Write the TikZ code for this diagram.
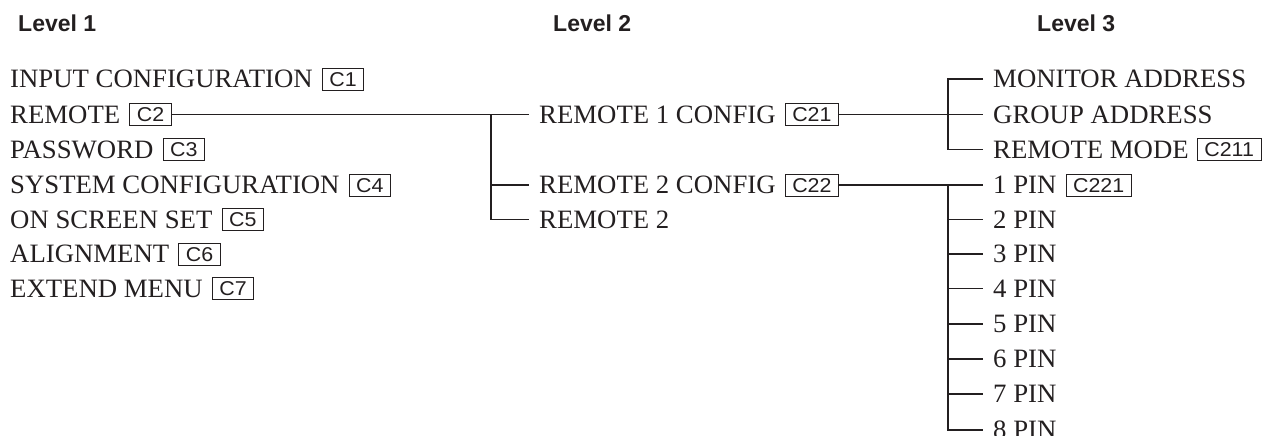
\documentclass[tikz,border=0pt]{standalone}
\usepackage{fontspec}
\setmainfont[FakeStretch=1.01]{Liberation Serif}
\setsansfont{Liberation Sans}
\newfontfamily\boxfont[FakeStretch=1.07]{Liberation Sans}
\usetikzlibrary{positioning}
\definecolor{ink}{HTML}{231F20}
\tikzset{
  item/.style={font=\fontsize{26.5}{30}\selectfont, text=ink, inner sep=0pt, anchor=west, text height=17.5pt, text depth=0pt},
  cbox/.style={draw=ink, line width=0.9pt, font=\boxfont\fontsize{20}{22}\selectfont, text=ink, inner xsep=7pt, inner ysep=0pt, minimum height=22pt, text height=14pt, text depth=0pt, anchor=west},
  head/.style={font=\sffamily\bfseries\fontsize{23}{26}\selectfont, text=ink, inner sep=0pt, anchor=base west},
  conn/.style={draw=ink, line width=1.1pt}
}
\begin{document}
\begin{tikzpicture}[x=1pt,y=-1pt]
\useasboundingbox (0,0) rectangle (1264,436);
% headers
\node[head] (h1) at (18,32) {Level 1};
\node[head] (h2) at (553,32) {Level 2};
\node[head] (h3) at (1037,32) {Level 3};
% level 1
\node[item] (l1) at (10,79) {INPUT CONFIGURATION};
\node[cbox, right=9pt of l1] (c1) {C1};
\node[item] (l2) at (10,114.5) {REMOTE};
\node[cbox, right=9pt of l2] (c2) {C2};
\node[item] (l3) at (10,149.5) {PASSWORD};
\node[cbox, right=9pt of l3] (c3) {C3};
\node[item] (l4) at (10,185) {SYSTEM CONFIGURATION};
\node[cbox, right=9pt of l4] (c4) {C4};
\node[item] (l5) at (10,219.5) {ON SCREEN SET};
\node[cbox, right=9pt of l5] (c5) {C5};
\node[item] (l6) at (10,254) {ALIGNMENT};
\node[cbox, right=9pt of l6] (c6) {C6};
\node[item] (l7) at (10,288.5) {EXTEND MENU};
\node[cbox, right=9pt of l7] (c7) {C7};
% level 2
\node[item] (r1) at (539,114.5) {REMOTE 1 CONFIG};
\node[cbox, right=9pt of r1] (c21) {C21};
\node[item] (r2) at (539,185) {REMOTE 2 CONFIG};
\node[cbox, right=9pt of r2] (c22) {C22};
\node[item] (r3) at (539,219.5) {REMOTE 2};
% level 3
\node[item] (m1) at (993,79) {MONITOR ADDRESS};
\node[item] (m2) at (993,114.5) {GROUP ADDRESS};
\node[item] (m3) at (993,149.5) {REMOTE MODE};
\node[cbox, right=8pt of m3] (c211) {C211};
\node[item] (p1) at (993,185) {1 PIN};
\node[cbox, right=9pt of p1] (c221) {C221};
\node[item] (p2) at (993,219.5) {2 PIN};
\node[item] (p3) at (993,254) {3 PIN};
\node[item] (p4) at (993,288.5) {4 PIN};
\node[item] (p5) at (993,324) {5 PIN};
\node[item] (p6) at (993,359) {6 PIN};
\node[item] (p7) at (993,394) {7 PIN};
\node[item] (p8) at (993,430) {8 PIN};
% bus coordinates
\coordinate (b1) at (491,114.5);
\coordinate (b2) at (948,79);
\coordinate (b3) at (948,185);
% level 1 -> level 2
\draw[conn] (c2.east) -- ([xshift=-10.5pt]r1.west);
\draw[conn] (b1) -- (b1 |- r3.west) -- ([xshift=-10.5pt]r3.west);
\draw[conn] (b1 |- r2.west) -- ([xshift=-10.5pt]r2.west);
% level 2 -> level 3 (C21)
\draw[conn] (c21.east) -- ([xshift=-10pt]m2.west);
\draw[conn] ([xshift=-10pt]m1.west) -- (b2) -- (b2 |- m3.west) -- ([xshift=-10pt]m3.west);
% level 2 -> level 3 (C22)
\draw[conn] (c22.east) -- ([xshift=-10pt]p1.west);
\draw[conn] (b3) -- (b3 |- p8.west) -- ([xshift=-10pt]p8.west);
\foreach \p in {p2,p3,p4,p5,p6,p7}
  \draw[conn] (b3 |- \p.west) -- ([xshift=-10pt]\p.west);
\end{tikzpicture}
\end{document}
